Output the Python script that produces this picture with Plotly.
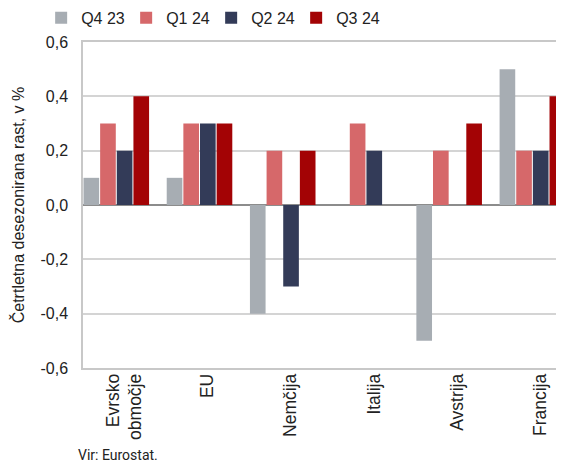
import plotly.graph_objects as go

categories = ["Evrsko<br>območje", "EU", "Nemčija", "Italija", "Avstrija", "Francija"]
q4_23 = [0.1, 0.1, -0.4, 0.0, -0.5, 0.5]
q1_24 = [0.3, 0.3, 0.2, 0.3, 0.2, 0.2]
q2_24 = [0.2, 0.3, -0.3, 0.2, 0.0, 0.2]
q3_24 = [0.4, 0.3, 0.2, 0.0, 0.3, 0.4]
series_names = ["Q4 23", "Q1 24", "Q2 24", "Q3 24"]
colors = ["#A7ADB3", "#D6686A", "#333B58", "#A30305"]
y_ticks = [-0.6, -0.4, -0.2, 0.0, 0.2, 0.4, 0.6]
y_ticktext = [f"{v:.1f}".replace(".", ",") for v in y_ticks]

fig = go.Figure()
for name, vals, col in zip(series_names, [q4_23, q1_24, q2_24, q3_24], colors):
    fig.add_trace(go.Bar(name=name, x=categories, y=vals, marker=dict(color=col, line=dict(width=0))))

fig.update_layout(
    width=556, height=454,
    margin=dict(l=75, r=0, t=34, b=94, autoexpand=False),
    paper_bgcolor="white", plot_bgcolor="white",
    barmode="group", bargap=0.2, bargroupgap=0.06,
    font=dict(family="Liberation Sans, Arial, sans-serif", size=16, color="#222"),
    legend=dict(orientation="h", x=-0.087, xanchor="left", y=1.074, yanchor="middle",
                font=dict(size=16, color="#222"), entrywidth=40, entrywidthmode="pixels",
                traceorder="normal", bgcolor="rgba(0,0,0,0)"),
    xaxis=dict(type="category", range=[-0.4, 5.38], tickangle=-90, ticks="",
               tickfont=dict(family="Liberation Sans, Arial, sans-serif", size=17.5, color="#222"),
               showline=True, linecolor="#C8C8C8", linewidth=1.5, mirror=True,
               showgrid=False, ticklabelshift=8, ticklabelstandoff=-3),
    yaxis=dict(range=[-0.6, 0.6], tickvals=y_ticks, ticktext=y_ticktext,
               title=dict(text="Četrtletna desezonirana rast, v %", standoff=12,
                          font=dict(size=16, color="#222")),
               tickfont=dict(size=16, color="#222"),
               showgrid=True, gridcolor="#D4D4D4", gridwidth=1.5,
               zeroline=True, zerolinecolor="#8C8C8C", zerolinewidth=1.5,
               showline=True, linecolor="#C8C8C8", linewidth=1.5, mirror=False,
               ticklabelstandoff=10),
)
fig.add_annotation(text="Vir: Eurostat.", xref="paper", yref="paper", x=-0.015, y=-0.268,
                   xanchor="left", yanchor="middle", showarrow=False,
                   font=dict(family="Roboto, sans-serif", size=14, color="#222"))

fig.write_html("out.html")
